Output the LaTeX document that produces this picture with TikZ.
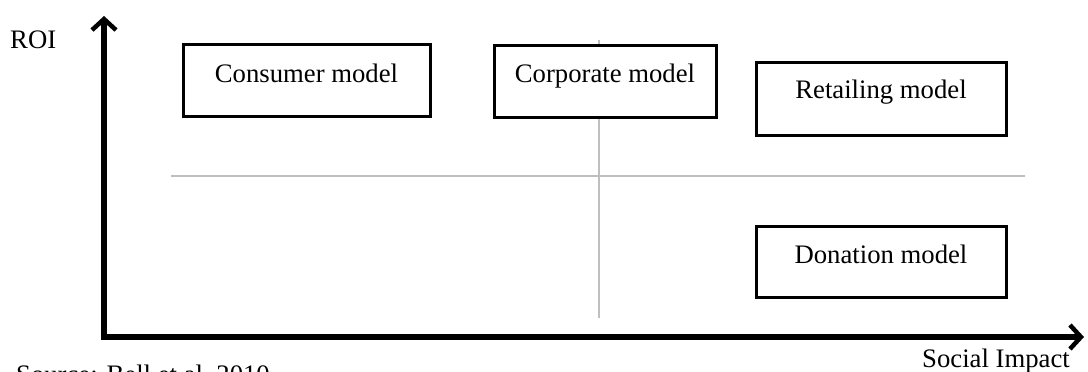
\documentclass[tikz,border=0pt]{standalone}
\usepackage{fontspec}
\setmainfont{Liberation Serif}
\usetikzlibrary{arrows.meta,shadows}
\begin{document}
\begin{tikzpicture}[x=1pt,y=-1pt,
  txt/.style={font=\fontsize{26.7}{30}\selectfont, inner sep=0pt},
  modelbox/.style={txt, draw=black, line width=3pt, fill=white,
    drop shadow={opacity=0.12, shadow xshift=1.5pt, shadow yshift=-2pt},
    text height=8pt+#1pt, text depth=8pt-#1pt},
  modelbox/.default=2,
  gridline/.style={draw=black!25, line width=2pt},
  barb/.tip={Straight Barb[length=11pt,width=24pt,line width=4.5pt]},
  axis/.style={line width=5.5pt, line join=miter, barb-barb}]
\useasboundingbox (0,0) rectangle (1088,372);
% grid lines
\coordinate (hl) at (171,176);
\coordinate (hr) at (1025,176);
\coordinate (vt) at (599,40);
\coordinate (vb) at (599,318);
\draw[gridline] (hl) -- (hr);
\draw[gridline] (vt) -- (vb);
% boxes
\node[modelbox=2, minimum width=247pt, minimum height=72pt] (consumer) at (306.5,80) {Consumer model};
\node[modelbox=1.3, minimum width=222pt, minimum height=72pt] (corporate) at (605,81) {Corporate model};
\node[modelbox=-0.5, minimum width=250pt, minimum height=73pt] (retailing) at (881,98.5) {Retailing model};
\node[modelbox=1.5, minimum width=250pt, minimum height=71pt] (donation) at (881,261.5) {Donation model};
% axes
\coordinate (ytip) at (104,16);
\coordinate (origin) at (104,337);
\coordinate (xtip) at (1084,337);
\draw[axis] (ytip) -- (origin) -- (xtip);
% labels
\node[txt, anchor=base west] (roi) at (10,48) {ROI};
\node[txt, anchor=base west] (social) at (922,367) {Social Impact};
\node[txt, anchor=base west] (source) at (16,383) {Source: Bell et al, 2010};
\end{tikzpicture}
\end{document}
